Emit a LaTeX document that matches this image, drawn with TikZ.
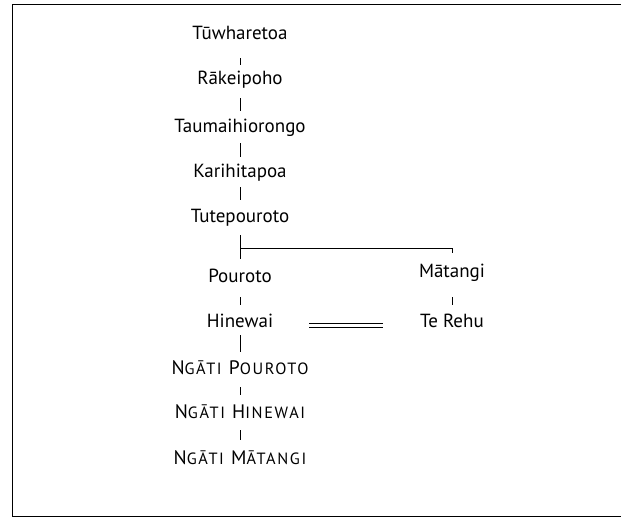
\documentclass[tikz,border=0pt]{standalone}
\usepackage{fontspec}
\setmainfont{PT Sans}
\newcommand\mysc[1]{{\fontsize{16.3}{18}\selectfont #1}}
\tikzset{
  nm/.style={inner sep=0pt, anchor=base, text height=12pt, text depth=0pt, font=\fontsize{19}{21}\selectfont},
  scn/.style={nm, font=\fontsize{19.5}{21}\selectfont\addfontfeature{LetterSpace=10}},
  tick/.style={line width=0.7pt},
  frame/.style={line width=0.8pt}
}
\begin{document}
\begin{tikzpicture}[x=1pt,y=-1pt]
\useasboundingbox (0,0) rectangle (621,518);
\draw[frame] (621,4) coordinate (f1) -- (12,4) coordinate (f2) -- (12,516) coordinate (f3) -- (621,516) coordinate (f4);
\node[nm] (tuw) at (240,40) {Tūwharetoa};
\node[nm] (rak) at (240,85) {Rākeipoho};
\node[nm] (tau) at (240,133) {Taumaihiorongo};
\node[nm] (kar) at (240,178) {Karihitapoa};
\node[nm] (tut) at (240,223) {Tutepouroto};
\node[nm] (pou) at (240,283) {Pouroto};
\node[nm] (mat) at (452,278) {Mātangi};
\node[nm] (hin) at (240,328) {Hinewai};
\node[nm] (ter) at (452,328) {Te Rehu};
\node[scn] (np) at (240,374) {N\mysc{GĀTI} P\mysc{OUROTO}};
\node[scn] (nh) at (240,418) {N\mysc{GĀTI} H\mysc{INEWAI}};
\node[scn] (nmt) at (240,464) {N\mysc{GĀTI} M\mysc{ĀTANGI}};
\coordinate (br) at (240,248);
\draw[tick, shorten <=18pt, shorten >=8pt] (tuw.south) -- (rak.north);
\draw[tick, shorten <=13pt, shorten >=10pt] (rak.south) -- (tau.north);
\draw[tick, shorten <=10pt, shorten >=9pt] (tau.south) -- (kar.north);
\draw[tick, shorten <=9pt, shorten >=11pt] (kar.south) -- (tut.north);
\draw[tick, shorten <=12pt, shorten >=12pt] (tut.south) -- (pou.north);
\draw[tick, shorten >=13pt] (br) -| (mat.north);
\draw[tick, shorten <=14pt, shorten >=11pt] (pou.south) -- (hin.north);
\draw[tick, shorten <=19pt, shorten >=11pt] (mat.south) -- (ter.north);
\draw[tick, shorten <=7pt, shorten >=10pt] (hin.south) -- (np.north);
\draw[tick, shorten <=13pt, shorten >=11pt] (np.south) -- (nh.north);
\draw[tick, shorten <=12pt, shorten >=12pt] (nh.south) -- (nmt.north);
\draw[line width=0.8pt, shorten <=36pt, shorten >=37pt]
  ([yshift=-1pt]hin.east) -- ([yshift=-1pt]ter.west);
\draw[line width=0.8pt, shorten <=36pt, shorten >=37pt]
  ([yshift=-5pt]hin.east) -- ([yshift=-5pt]ter.west);
\end{tikzpicture}
\end{document}
